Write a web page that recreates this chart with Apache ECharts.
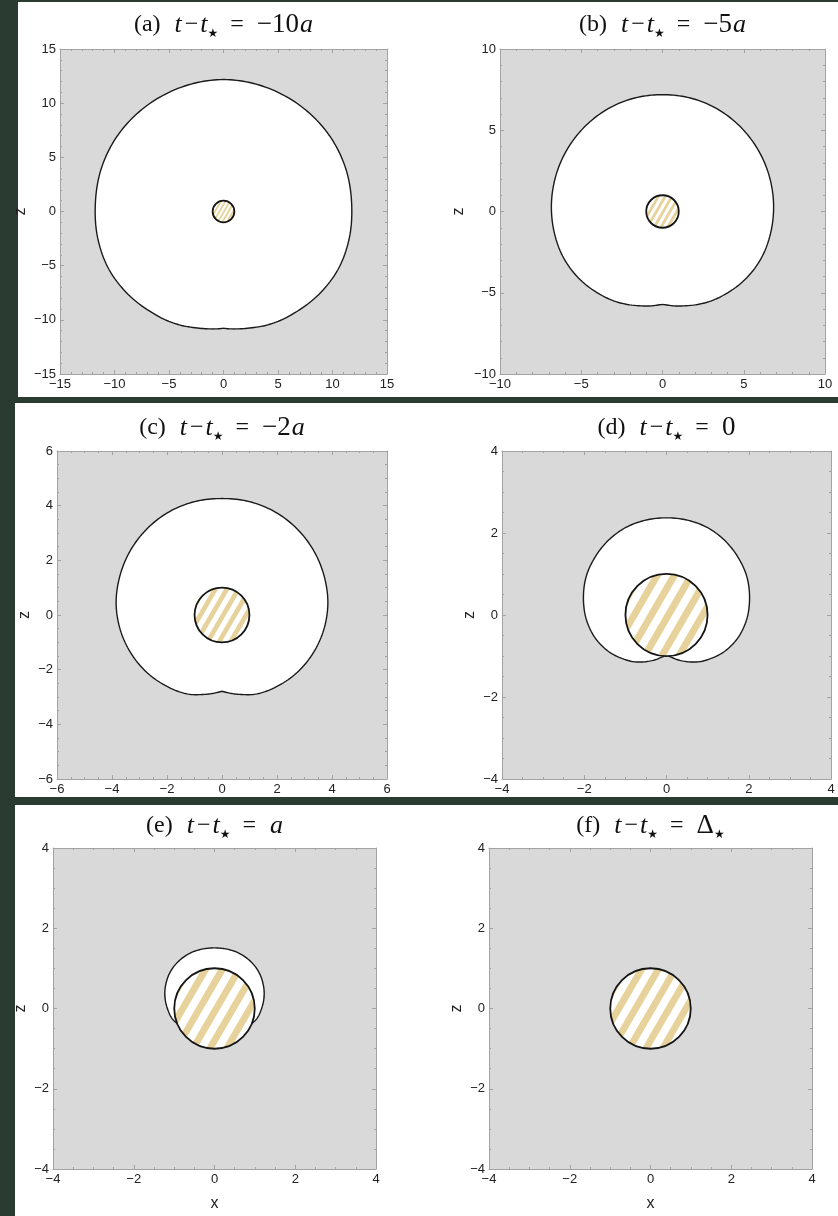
<!DOCTYPE html>
<html>
<head>
<meta charset="utf-8">
<script src="https://cdn.jsdelivr.net/npm/echarts@6/dist/echarts.min.js"></script>
<style>
html,body{margin:0;padding:0;background:#2a3b31;}
#chart{width:838px;height:1216px;}
</style>
</head>
<body>
<div id="chart"></div>
<script>
// ---------------- DATA ----------------
// panel titles (rich text tokens)
const titleTexts = [
  '{n|(a)}{it|t}{m|\u2212}{i|t}{s|\u2605}{eq|=}{v|\u221210}{i|a}',
  '{n|(b)}{it|t}{m|\u2212}{i|t}{s|\u2605}{eq|=}{v|\u22125}{i|a}',
  '{n|(c)}{it|t}{m|\u2212}{i|t}{s|\u2605}{eq|=}{v|\u22122}{i|a}',
  '{n|(d)}{it|t}{m|\u2212}{i|t}{s|\u2605}{eq|=}{v|0}',
  '{n|(e)}{it|t}{m|\u2212}{i|t}{s|\u2605}{eq|=}{i|a}',
  '{n|(f)}{it|t}{m|\u2212}{i|t}{s|\u2605}{eq|=}{v|\u0394}{s|\u2605}'
];
// axis ranges and ticks per panel
const axisMin    = [-15, -10, -6, -4, -4, -4];
const axisMax    = [ 15,  10,  6,  4,  4,  4];
const majorStep  = [  5,   5,  2,  2,  2,  2];
const minorSplit = [  5,   5,  4,  4,  4,  4];
const xAxisName = 'x';
const zAxisName = 'z';

// outer (white) region boundary, read in polar form about (0, center):
// angle in degrees measured from the +z direction towards +x, radius in units of a
const centerA = 0.65;
const anglesA = [0, 15, 30, 45, 60, 75, 90, 105, 120, 135, 150, 160, 170, 177, 180];
const radiiA  = [11.53, 11.5, 11.5, 11.55, 11.63, 11.7, 11.76, 11.95, 12.1, 12.05, 11.93, 11.83, 11.62, 11.5, 11.43];
const centerB = 0.6;
const anglesB = [0, 15, 30, 45, 60, 75, 90, 105, 120, 135, 150, 160, 172, 180];
const radiiB  = [6.59, 6.61, 6.63, 6.65, 6.69, 6.75, 6.83, 6.92, 7.0, 6.97, 6.84, 6.7, 6.48, 6.32];
const centerC = 0.45;
const anglesC = [0, 15, 30, 45, 60, 75, 90, 105, 120, 135, 150, 160, 167, 174, 180];
const radiiC  = [3.81, 3.83, 3.84, 3.84, 3.84, 3.84, 3.85, 3.83, 3.79, 3.73, 3.64, 3.56, 3.45, 3.34, 3.24];
const centerD = 0.42;
const anglesD = [0, 15, 30, 45, 60, 75, 90, 105, 120, 135, 150, 158, 168, 180];
const radiiD  = [1.95, 1.96, 1.98, 1.99, 2.0, 2.02, 2.02, 2.02, 1.99, 1.91, 1.78, 1.69, 1.56, 1.40];
const centerE = 0.32;
const anglesE = [0, 15, 30, 45, 60, 75, 90, 105, 120, 135, 150, 165, 180];
const radiiE  = [1.19, 1.2, 1.22, 1.235, 1.245, 1.24, 1.23, 1.21, 1.19, 1.1, 1.0, 0.95, 0.95];
const outerCenters = [centerA, centerB, centerC, centerD, centerE, null];
const outerAngles  = [anglesA, anglesB, anglesC, anglesD, anglesE, null];
const outerRadii   = [radiiA, radiiB, radiiC, radiiD, radiiE, null];

// hatched disk (radius a = 1 at the origin)
const diskCenter = [0, 0];
const diskRadius = 1;
const stripePeriod = 0.36;
const stripeWidth = 0.17;
const stripePhase = 0.04;
const stripeAngle = 60;

// ---------------- LAYOUT / STYLE ----------------
const bgDark = '#2a3b31';
const plotBg = '#d9d9d9';
const frameColor = '#a3a3a3';
const textColor = '#222222';
const stripeColor = '#e6d29a';
const panelRects = [[18,2,820,395],[15,403,823,394],[15,805,823,411]];
const gridLeft = [60, 500, 57, 502, 53, 489];
const gridTop  = [49, 49, 451, 451, 848, 848];
const gridW    = [327, 325, 330, 329, 323, 323];
const gridH    = [325, 325, 328, 328, 321, 321];
const titleY   = [25, 25, 428, 428, 826, 826];
const zGap     = [31, 33, 24, 24, 24, 24];

const fmt = v => (v < 0 ? '\u2212' : '') + Math.abs(v);

// centripetal Catmull-Rom rendering of a curve through pixel points (open, ends kept sharp)
function spline(pts, samples) {
  const n = pts.length, out = [];
  const get = i => i < 0 ? [2 * pts[0][0] - pts[1][0], 2 * pts[0][1] - pts[1][1]]
    : i >= n ? [2 * pts[n - 1][0] - pts[n - 2][0], 2 * pts[n - 1][1] - pts[n - 2][1]] : pts[i];
  const dt = (a, b) => Math.max(1e-6, Math.sqrt(Math.hypot(b[0] - a[0], b[1] - a[1])));
  const mix = (a, b, ta, tb, t) => {
    const w = (t - ta) / (tb - ta);
    return [a[0] + (b[0] - a[0]) * w, a[1] + (b[1] - a[1]) * w];
  };
  for (let i = 0; i < n - 1; i++) {
    const p0 = get(i - 1), p1 = get(i), p2 = get(i + 1), p3 = get(i + 2);
    const t0 = 0, t1 = t0 + dt(p0, p1), t2 = t1 + dt(p1, p2), t3 = t2 + dt(p2, p3);
    for (let s = 0; s < samples; s++) {
      const t = t1 + (t2 - t1) * s / samples;
      const a1 = mix(p0, p1, t0, t1, t), a2 = mix(p1, p2, t1, t2, t), a3 = mix(p2, p3, t2, t3, t);
      const b1 = mix(a1, a2, t0, t2, t), b2 = mix(a2, a3, t1, t3, t);
      out.push(mix(b1, b2, t1, t2, t));
    }
  }
  out.push(pts[n - 1]);
  return out;
}

function stripePolys() {
  const th = stripeAngle * Math.PI / 180;
  const d = [Math.cos(th), Math.sin(th)], nn = [Math.sin(th), -Math.cos(th)];
  const R = diskRadius;
  const polys = [];
  const kMin = Math.floor((-R - stripePhase) / stripePeriod) - 1;
  const kMax = Math.ceil((R - stripePhase) / stripePeriod) + 1;
  for (let k = kMin; k <= kMax; k++) {
    let a = stripePhase + k * stripePeriod - stripeWidth / 2;
    let b = a + stripeWidth;
    a = Math.max(a, -R); b = Math.min(b, R);
    if (b <= a) continue;
    const top = [], bot = [];
    const steps = 14;
    for (let s = 0; s <= steps; s++) {
      const u = a + (b - a) * s / steps;
      const h = Math.sqrt(Math.max(0, R * R - u * u));
      top.push([u * nn[0] + h * d[0], u * nn[1] + h * d[1]]);
      bot.push([u * nn[0] - h * d[0], u * nn[1] - h * d[1]]);
    }
    polys.push(top.concat(bot.reverse()));
  }
  return polys;
}
const stripes = stripePolys();

const grids = [], xAxes = [], yAxes = [], series = [], graphics = [];

panelRects.forEach(r => graphics.push({
  type: 'rect', z: -10, silent: true,
  shape: { x: r[0], y: r[1], width: r[2], height: r[3] },
  style: { fill: '#ffffff' }
}));

function axisCommon(i) {
  return {
    type: 'value', gridIndex: i, min: axisMin[i], max: axisMax[i], interval: majorStep[i],
    axisLine: { show: true, onZero: false, lineStyle: { color: frameColor, width: 1 } },
    axisTick: { show: true, inside: true, length: 4, lineStyle: { color: frameColor, width: 1 } },
    minorTick: { show: true, splitNumber: minorSplit[i], length: 2, lineStyle: { color: frameColor, width: 1 } },
    splitLine: { show: false }, minorSplitLine: { show: false },
    axisPointer: { show: false }
  };
}
const labelStyle = { color: textColor, fontFamily: 'Liberation Sans, Arial, sans-serif', fontSize: 13, margin: 4,
  hideOverlap: false, showMinLabel: true, showMaxLabel: true, formatter: fmt };
const nameStyle = { color: textColor, fontFamily: 'Liberation Sans, Arial, sans-serif', fontSize: 16 };
const serif = 'Liberation Serif, serif';
const titleRich = {
  n:  { fontFamily: serif, fontSize: 24, fill: '#111', lineHeight: 30 },
  it: { fontFamily: serif, fontStyle: 'italic', fontSize: 26, fill: '#111', lineHeight: 30, padding: [0, 0, 0, 14] },
  i:  { fontFamily: serif, fontStyle: 'italic', fontSize: 26, fill: '#111', lineHeight: 30, padding: [0, 0, 0, 1] },
  m:  { fontFamily: serif, fontSize: 24, fill: '#111', lineHeight: 30, padding: [0, 1, 0, 3] },
  eq: { fontFamily: serif, fontSize: 24, fill: '#111', lineHeight: 30, padding: [0, 13, 0, 12] },
  v:  { fontFamily: serif, fontSize: 27, fill: '#111', lineHeight: 30 },
  s:  { fontFamily: 'DejaVu Sans, sans-serif', fontSize: 12, fill: '#111', lineHeight: 30, verticalAlign: 'bottom', padding: [0, 0, 0, 0] }
};

for (let i = 0; i < 6; i++) {
  grids.push({ left: gridLeft[i], top: gridTop[i], width: gridW[i], height: gridH[i],
    show: true, backgroundColor: plotBg, borderWidth: 0, containLabel: false, outerBoundsMode: 'none' });
  xAxes.push(Object.assign(axisCommon(i), {
    position: 'bottom', axisLabel: labelStyle,
    name: i >= 4 ? xAxisName : '', nameLocation: 'middle', nameGap: 27, nameTextStyle: nameStyle
  }));
  xAxes.push(Object.assign(axisCommon(i), { position: 'top', axisLabel: { show: false } }));
  yAxes.push(Object.assign(axisCommon(i), {
    position: 'left', axisLabel: labelStyle,
    name: zAxisName, nameLocation: 'middle', nameGap: zGap[i], nameRotate: 90, nameTextStyle: nameStyle
  }));
  yAxes.push(Object.assign(axisCommon(i), { position: 'right', axisLabel: { show: false } }));

  if (outerAngles[i]) {
    const zc = outerCenters[i];
    const half = outerAngles[i].map((deg, k) => {
      const th = deg * Math.PI / 180, r = outerRadii[i][k];
      return [r * Math.sin(th), zc + r * Math.cos(th)];
    });
    // closed outline: bottom cusp -> left side -> top -> right side -> bottom cusp
    const full = half.slice().reverse().map(p => [-p[0], p[1]]).concat(half.slice(1));
    series.push({
      type: 'custom', coordinateSystem: 'cartesian2d', xAxisIndex: 2 * i, yAxisIndex: 2 * i,
      z: 2, silent: true, animation: false, clip: false,
      data: full,
      renderItem: (params, api) => {
        if (params.dataIndex !== 0) return null;
        const px = full.map(p => api.coord(p));
        return {
          type: 'polyline',
          shape: { points: spline(px, 10) },
          style: { fill: '#ffffff', stroke: '#1a1a1a', lineWidth: 1.4, lineJoin: 'round' }
        };
      }
    });
  }
  series.push({
    type: 'custom', coordinateSystem: 'cartesian2d', xAxisIndex: 2 * i, yAxisIndex: 2 * i,
    z: 3, silent: true, animation: false, clip: false,
    data: [[diskCenter[0], diskCenter[1], diskRadius]],
    renderItem: (params, api) => {
      const cx0 = api.value(0), cz0 = api.value(1);
      const c = api.coord([cx0, cz0]);
      const sz = api.size([api.value(2), api.value(2)]);
      const r = (sz[0] + sz[1]) / 2;
      const children = [{ type: 'circle', shape: { cx: c[0], cy: c[1], r: r }, style: { fill: '#ffffff' } }];
      stripes.forEach(poly => children.push({
        type: 'polygon',
        shape: { points: poly.map(p => api.coord([p[0] + cx0, p[1] + cz0])) },
        style: { fill: stripeColor }
      }));
      children.push({ type: 'circle', shape: { cx: c[0], cy: c[1], r: r }, style: { fill: 'none', stroke: '#151515', lineWidth: 1.8 } });
      return { type: 'group', children: children };
    }
  });

  graphics.push({
    type: 'text', z: 100, silent: true,
    x: gridLeft[i] + gridW[i] / 2, y: titleY[i],
    style: {
      text: titleTexts[i],
      align: 'center', verticalAlign: 'middle', textAlign: 'center', textVerticalAlign: 'middle',
      fill: '#111', rich: titleRich
    }
  });
}

const chart = echarts.init(document.getElementById('chart'), null, { renderer: 'canvas', width: 838, height: 1216 });
chart.setOption({
  backgroundColor: bgDark,
  animation: false,
  grid: grids,
  xAxis: xAxes,
  yAxis: yAxes,
  series: series,
  graphic: { elements: graphics }
});
</script>
</body>
</html>
